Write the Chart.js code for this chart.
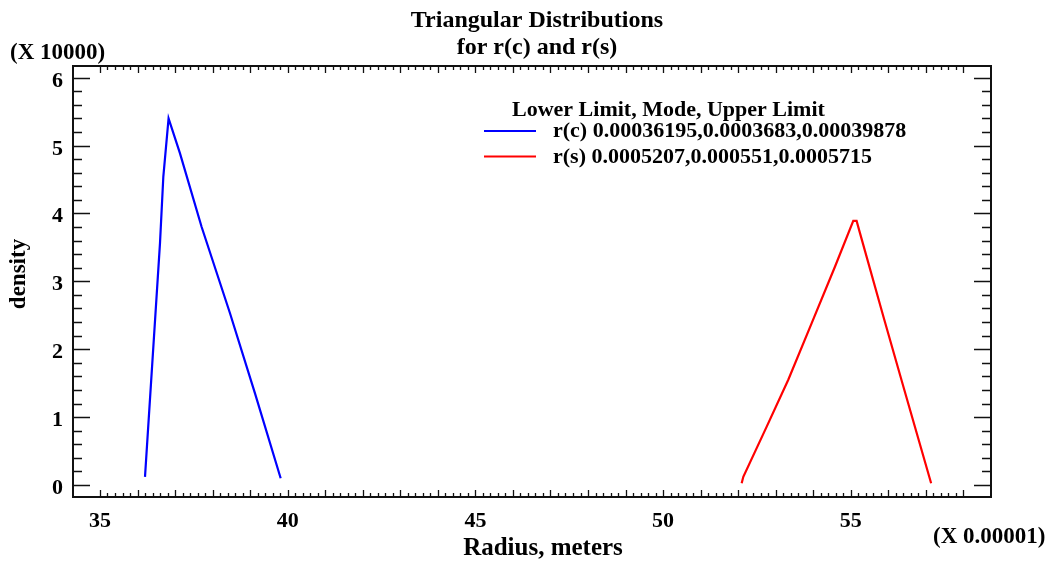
<!DOCTYPE html>
<html>
<head>
<meta charset="utf-8">
<script src="https://cdn.jsdelivr.net/npm/chart.js@4/dist/chart.umd.min.js"></script>
<style>
  html, body { margin: 0; padding: 0; background: #fff; }
  #wrap { width: 1055px; height: 561px; }
</style>
</head>
<body>
<div id="wrap"><canvas id="chart" width="1055" height="561"></canvas></div>
<script>
// data (x in units of 0.00001 m, y in units of 10000)
const rcX = [36.199, 36.598, 36.687, 36.827, 37.131, 37.708, 38.463, 39.129, 39.813];
const rcY = [0.12, 3.56, 4.54, 5.40, 4.885, 3.80, 2.53, 1.35, 0.10];
const rsX = [52.093, 52.137, 52.76, 53.335, 53.956, 54.578, 55.066, 55.155, 55.245, 55.866, 56.40, 57.14];
const rsY = [0.025, 0.12, 0.86, 1.55, 2.38, 3.215, 3.89, 3.89, 3.71, 2.485, 1.45, 0.025];

const xTickLabels = [35, 40, 45, 50, 55];
const yTickLabels = [0, 1, 2, 3, 4, 5, 6];
const rcLabel = "r(c) 0.00036195,0.0003683,0.00039878";
const rsLabel = "r(s) 0.0005207,0.000551,0.0005715";

const serif = '"Liberation Serif", "Times New Roman", serif';

function pts(xs, ys) {
  return xs.map((x, i) => ({ x: x, y: ys[i] }));
}

// frame, inward ticks, labels and legend in the old plotting style
const framePlugin = {
  id: 'frame',
  afterDraw(chart) {
    const ctx = chart.ctx;
    const a = chart.chartArea;
    const xs = chart.scales.x;
    const ys = chart.scales.y;
    ctx.save();
    ctx.strokeStyle = '#111';
    ctx.lineWidth = 2;
    ctx.strokeRect(a.left, a.top, a.right - a.left, a.bottom - a.top);

    ctx.lineWidth = 1.3;
    ctx.beginPath();
    // x ticks every 0.2, longer every 1
    for (let i = 0; i <= 115; i++) {
      const v = 35 + i * 0.2;
      const px = Math.round(xs.getPixelForValue(v)) + 0.5;
      const len = (i % 5 === 0) ? 7 : 4;
      ctx.moveTo(px, a.bottom); ctx.lineTo(px, a.bottom - len);
      ctx.moveTo(px, a.top); ctx.lineTo(px, a.top + len);
    }
    // y ticks every 0.2, longer every 1
    for (let i = 0; i <= 30; i++) {
      const v = i * 0.2;
      const py = Math.round(ys.getPixelForValue(v)) + 0.5;
      const len = (i % 5 === 0) ? 17 : 9;
      ctx.moveTo(a.left, py); ctx.lineTo(a.left + len, py);
      ctx.moveTo(a.right, py); ctx.lineTo(a.right - len, py);
    }
    ctx.stroke();

    ctx.fillStyle = '#000';
    ctx.font = 'bold 22px ' + serif;
    ctx.textBaseline = 'alphabetic';
    ctx.textAlign = 'center';
    xTickLabels.forEach(v => {
      ctx.fillText(String(v), xs.getPixelForValue(v), 527);
    });
    ctx.textAlign = 'right';
    yTickLabels.forEach(v => {
      ctx.fillText(String(v), 63, ys.getPixelForValue(v) + 9);
    });

    // titles
    ctx.textAlign = 'center';
    ctx.font = 'bold 24px ' + serif;
    ctx.fillText('Triangular Distributions', 537, 27);
    ctx.fillText('for r(c) and r(s)', 537, 54);

    ctx.textAlign = 'left';
    ctx.font = 'bold 23px ' + serif;
    ctx.fillText('(X 10000)', 10, 59);
    ctx.fillText('(X 0.00001)', 933, 543);

    ctx.textAlign = 'center';
    ctx.font = 'bold 25px ' + serif;
    ctx.fillText('Radius, meters', 543, 555);

    ctx.save();
    ctx.translate(25, 274);
    ctx.rotate(-Math.PI / 2);
    ctx.font = 'bold 23px ' + serif;
    ctx.fillText('density', 0, 0);
    ctx.restore();

    // legend
    ctx.font = 'bold 22px ' + serif;
    ctx.textAlign = 'left';
    ctx.fillText('Lower Limit, Mode, Upper Limit', 512, 116);
    const items = [[131, 137], [156.5, 163]];
    chart.data.datasets.forEach((ds, i) => {
      ctx.strokeStyle = ds.borderColor;
      ctx.lineWidth = 2.2;
      ctx.beginPath();
      ctx.moveTo(484, items[i][0]);
      ctx.lineTo(536, items[i][0]);
      ctx.stroke();
      ctx.fillStyle = '#000';
      ctx.fillText(ds.label, 553, items[i][1]);
    });
    ctx.restore();
  }
};

new Chart(document.getElementById('chart'), {
  type: 'scatter',
  data: {
    datasets: [
      {
        label: rcLabel,
        data: pts(rcX, rcY),
        showLine: true,
        borderColor: '#0000ff',
        borderWidth: 2.2,
        pointRadius: 0,
        tension: 0
      },
      {
        label: rsLabel,
        data: pts(rsX, rsY),
        showLine: true,
        borderColor: '#ff0000',
        borderWidth: 2.2,
        pointRadius: 0,
        tension: 0
      }
    ]
  },
  options: {
    responsive: false,
    animation: false,
    layout: { padding: { left: 73, right: 64, top: 66, bottom: 64 } },
    scales: {
      x: { type: 'linear', min: 34.281, max: 58.735, display: false },
      y: { type: 'linear', min: -0.177, max: 6.172, display: false }
    },
    plugins: {
      legend: { display: false },
      tooltip: { enabled: false }
    }
  },
  plugins: [framePlugin]
});
</script>
</body>
</html>
